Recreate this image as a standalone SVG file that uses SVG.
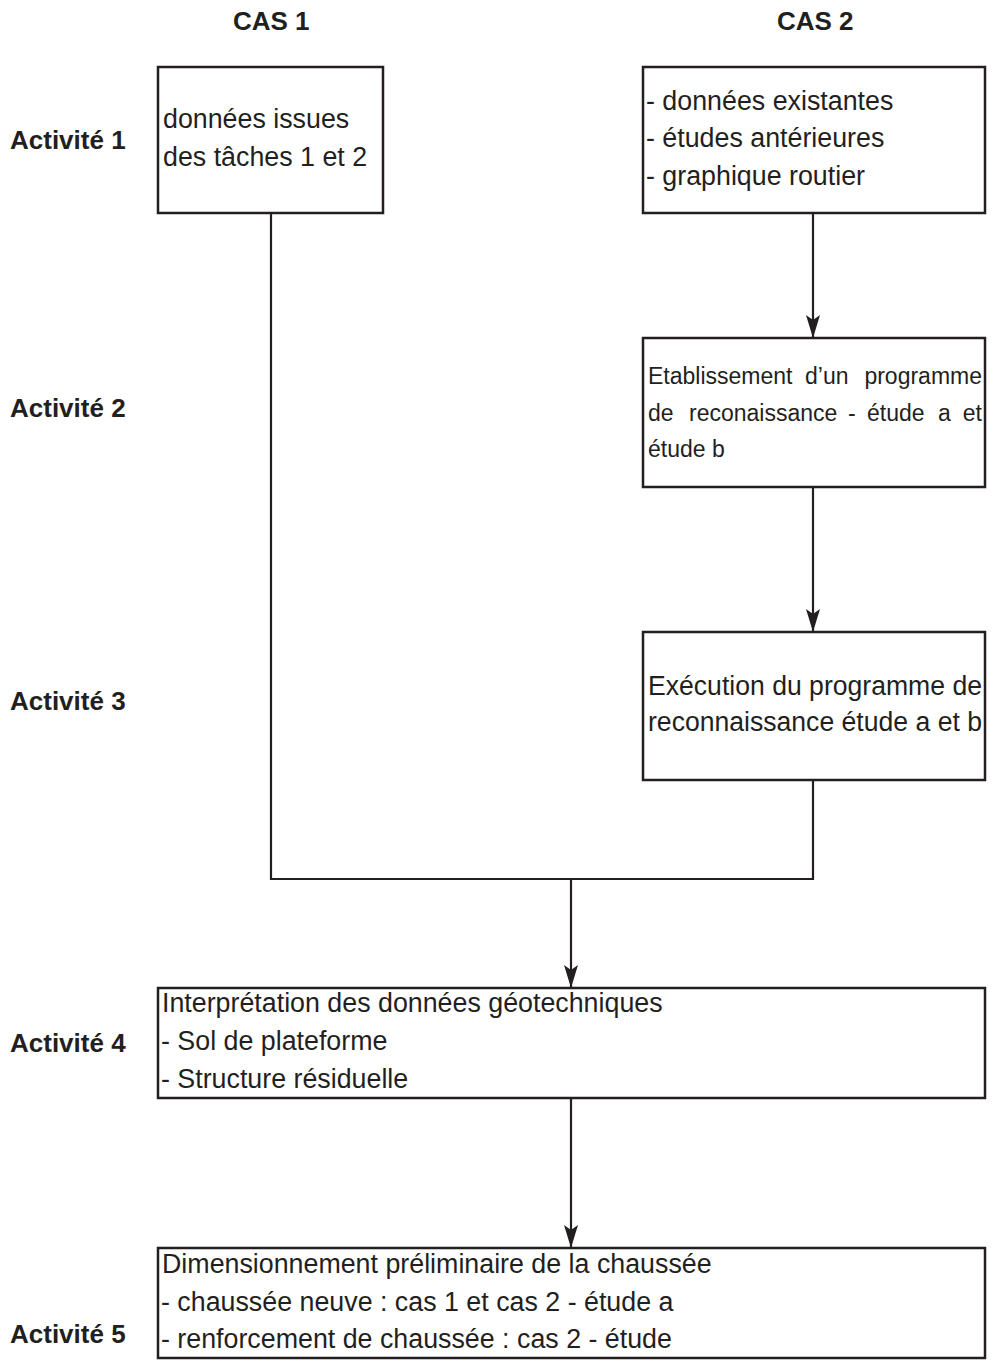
<svg xmlns="http://www.w3.org/2000/svg" width="994" height="1362" viewBox="0 0 994 1362">
  <style>
    .box { fill: #ffffff; stroke: #231f20; stroke-width: 2.5; }
    .lbl { font-family: "Liberation Sans", Arial, sans-serif; font-weight: bold; font-size: 26px; fill: #231f20; }
    .t { font-family: "Liberation Sans", Arial, sans-serif; font-size: 26.8px; fill: #231f20; }
    .s { font-family: "Liberation Sans", Arial, sans-serif; font-size: 23px; fill: #231f20; }
    .c { fill: none; stroke: #231f20; stroke-width: 2.2; }
  </style>
  <defs>
    <marker id="arr" markerUnits="userSpaceOnUse" markerWidth="26" markerHeight="16" viewBox="0 -8 24 16" refX="23" refY="0" orient="auto">
      <path d="M0,-7 L23,0 L0,7 L5,0 Z" fill="#231f20"/>
    </marker>
  </defs>
  <rect width="994" height="1362" fill="#ffffff"/>

  <g id="headers">
    <text class="lbl" x="233" y="30">CAS 1</text>
    <text class="lbl" x="777" y="30">CAS 2</text>
    <text class="lbl" x="10" y="149">Activité 1</text>
    <text class="lbl" x="10" y="417">Activité 2</text>
    <text class="lbl" x="10" y="710">Activité 3</text>
    <text class="lbl" x="10" y="1052">Activité 4</text>
    <text class="lbl" x="10" y="1343">Activité 5</text>
  </g>

  <g id="connectors">
    <polyline class="c" points="271,213 271,879 813,879 813,780"/>
    <line class="c" x1="571" y1="879" x2="571" y2="988" marker-end="url(#arr)"/>
    <line class="c" x1="813" y1="213" x2="813" y2="338" marker-end="url(#arr)"/>
    <line class="c" x1="813" y1="487" x2="813" y2="632" marker-end="url(#arr)"/>
    <line class="c" x1="571" y1="1098" x2="571" y2="1248" marker-end="url(#arr)"/>
  </g>

  <g id="n1">
    <rect class="box" x="158" y="67" width="225" height="146"/>
    <text class="t" x="163" y="128">données issues</text>
    <text class="t" x="163" y="166">des tâches 1 et 2</text>
  </g>

  <g id="n2">
    <rect class="box" x="643" y="67" width="342" height="146"/>
    <text class="t" x="646" y="110">- données existantes</text>
    <text class="t" x="646" y="147">- études antérieures</text>
    <text class="t" x="646" y="185">- graphique routier</text>
  </g>

  <g id="n3">
    <rect class="box" x="643" y="338" width="342" height="149"/>
    <text class="s" y="384"><tspan x="648">Etablissement</tspan><tspan x="805">d’un</tspan><tspan x="982" text-anchor="end">programme</tspan></text>
    <text class="s" y="421"><tspan x="648">de</tspan><tspan x="689">reconaissance</tspan><tspan x="848">-</tspan><tspan x="867">étude</tspan><tspan x="938">a</tspan><tspan x="982" text-anchor="end">et</tspan></text>
    <text class="s" x="648" y="457">étude b</text>
  </g>

  <g id="n4">
    <rect class="box" x="643" y="632" width="342" height="148"/>
    <text class="t" x="648" y="695" textLength="334" lengthAdjust="spacingAndGlyphs">Exécution du programme de</text>
    <text class="t" x="648" y="731" textLength="334" lengthAdjust="spacingAndGlyphs">reconnaissance étude a et b</text>
  </g>

  <g id="n5">
    <rect class="box" x="158" y="988" width="827" height="110"/>
    <text class="t" x="162" y="1012">Interprétation des données géotechniques</text>
    <text class="t" x="161" y="1050">- Sol de plateforme</text>
    <text class="t" x="161" y="1088">- Structure résiduelle</text>
  </g>

  <g id="n6">
    <rect class="box" x="158" y="1248" width="827" height="110"/>
    <text class="t" x="162" y="1273">Dimensionnement préliminaire de la chaussée</text>
    <text class="t" x="161" y="1311">- chaussée neuve : cas 1 et cas 2 - étude a</text>
    <text class="t" x="161" y="1348">- renforcement de chaussée : cas 2 - étude</text>
  </g>
</svg>
